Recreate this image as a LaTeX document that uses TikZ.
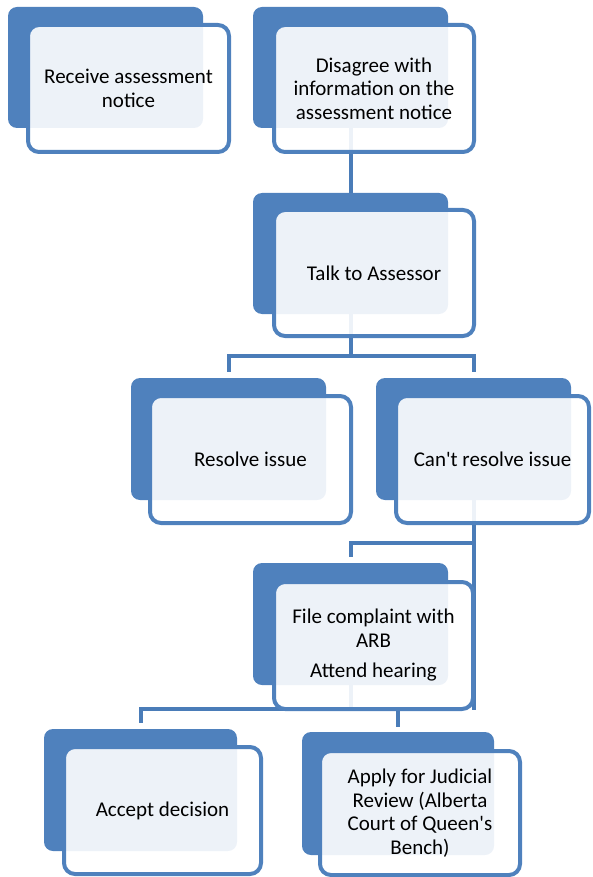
\documentclass[tikz,border=0pt]{standalone}
\usepackage{fontspec}
\newfontfamily\carl{Carlito}
\definecolor{accent}{HTML}{4F81BD}
\definecolor{connc}{HTML}{4A7CB8}
\begin{document}
\begin{tikzpicture}[x=1pt,y=-1pt,
  back/.style={fill=accent, draw=none, rounded corners=9pt, inner sep=0pt},
  front/.style={fill=white, fill opacity=0.9, text opacity=1, draw=accent, draw opacity=1,
     line width=4pt, rounded corners=11pt, inner sep=0pt, align=center,
     font=\carl\fontsize{21}{23.5}\selectfont, text=black},
  conn/.style={draw=connc, line width=4pt}]
\useasboundingbox (0,0) rectangle (592,877);
% back rectangles
\node[back, minimum width=195pt, minimum height=121pt] (b1) at (105.5,67.5) {};
\node[back, minimum width=195pt, minimum height=121pt] (b2) at (350.5,67.5) {};
\node[back, minimum width=195pt, minimum height=121pt] (b3) at (350.5,253.5) {};
\node[back, minimum width=195pt, minimum height=122pt] (b4) at (228.5,439) {};
\node[back, minimum width=195pt, minimum height=122pt] (b5) at (473.5,439) {};
\node[back, minimum width=195pt, minimum height=122pt] (b6) at (350.5,624) {};
\node[back, minimum width=193pt, minimum height=122pt] (b7) at (140.5,790) {};
\node[back, minimum width=192pt, minimum height=123pt] (b8) at (398,793.5) {};
% connectors
\coordinate (j3) at (350.5,356);
\coordinate (j5) at (473.5,543);
\coordinate (e5) at (473.5,710);
\coordinate (j6) at (350.5,709);
\draw[conn] (b2.south) -- (b3.north);
\draw[conn] (b3.south) -- (j3);
\draw[conn, shorten >=6pt] (j3) -| (b4.north);
\draw[conn, shorten >=6pt] (j3) -| (b5.north);
\draw[conn] (b5.south) -- (e5);
\draw[conn, shorten >=6pt] (j5) -| (b6.north);
\draw[conn] (b6.south) -- (j6);
\draw[conn, shorten >=6pt] (j6) -| (b7.north);
\draw[conn, shorten >=5pt] (j6) -| (b8.north);
% front boxes
\node[front, minimum width=201pt, minimum height=127pt] (f1) at (128.5,88.5) {Receive assessment\\notice};
\node[front, minimum width=200pt, minimum height=127pt] (f2) at (374,88.5) {Disagree with\\information on the\\assessment notice};
\node[front, minimum width=200pt, minimum height=126pt] (f3) at (374,273) {Talk to Assessor};
\node[front, minimum width=201pt, minimum height=127pt] (f4) at (250.5,459.5) {Resolve issue};
\node[front, minimum width=193pt, minimum height=127pt] (f5) at (492.5,459.5) {Can't resolve issue};
\node[front, minimum width=199pt, minimum height=127pt] (f6) at (373.5,645.5) {File complaint with\\ARB\\[7pt]Attend hearing};
\node[front, minimum width=197pt, minimum height=127pt] (f7) at (162.5,810.5) {Accept decision};
\node[front, minimum width=200pt, minimum height=124pt] (f8) at (420,813) {Apply for Judicial\\Review (Alberta\\Court of Queen's\\Bench)};
\end{tikzpicture}
\end{document}
